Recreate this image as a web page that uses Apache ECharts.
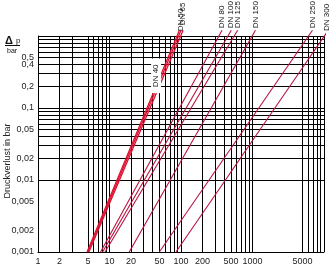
<!DOCTYPE html>
<html><head><meta charset="utf-8">
<script src="https://cdn.jsdelivr.net/npm/echarts@6/dist/echarts.min.js"></script>
<style>html,body{margin:0;padding:0;background:#fff}#c{width:332px;height:268px}</style>
</head><body><div id="c"></div>
<script>
// tick labels
const xTickLabels = [1, 2, 5, 10, 20, 50, 100, 200, 500, 1000, 5000];
const yTickLabels = [0.001, 0.002, 0.005, 0.01, 0.02, 0.05, 0.1, 0.2, 0.4, 0.5];
// grid lines
const xGridValues = [1,2,3,5,6,7,8,9,10,20,30,40,50,60,70,80,90,100,200,300,400,500,600,700,800,900,1000,5000,6000,7000,8000,9000,10000];
const yGridValues = [0.001,0.002,0.003,0.004,0.005,0.006,0.007,0.008,0.009,0.01,0.02,0.03,0.04,0.05,0.06,0.07,0.08,0.09,0.1,0.2,0.3,0.4,0.5,0.6,0.7,0.8,0.9,1];
// series: [flow, pressure loss]
const seriesNames = ['DN 40','DN 50','DN 65','DN 80','DN 100','DN 125','DN 150','DN 250','DN 300'];
const dn40  = [[4.85, 0.001], [95, 1.2]];
const dn50  = [[5.0, 0.001], [100, 1.2]];
const dn65  = [[5.15, 0.001], [107, 1.2]];
const dn80  = [[7.5, 0.001], [375, 1.2]];
const dn100 = [[8.0, 0.001], [505, 1.2]];
const dn125 = [[8.65, 0.001], [620, 1.2]];
const dn150 = [[18.9, 0.001], [1100, 1.2]];
const dn250 = [[49.8, 0.001], [6900, 1.2]];
const dn300 = [[85, 0.001], [10800, 1.1]];
const dn40LabelAt = [44.8, 0.28];

const seriesData = [dn40, dn50, dn65, dn80, dn100, dn125, dn150, dn250, dn300];
const FONT = 'Liberation Sans, Arial, sans-serif';
const fmtY = v => String(v).replace('.', ',');
const chart = echarts.init(document.getElementById('c'), null, {renderer: 'canvas'});
const labelShift = {'DN 50': [-3, 0], 'DN 65': [3, 0]};

const lineSeries = seriesData.map((d, i) => {
  const name = seriesNames[i];
  const band = i < 3;
  const data = d.map((p, j) => {
    if (j === d.length - 1 && name !== 'DN 40') {
      return {value: p, label: {show: true, formatter: name, position: 'top', rotate: 90,
        align: 'left', verticalAlign: 'middle', distance: 2, offset: labelShift[name] || [0, 0],
        fontSize: 8, color: '#111', fontFamily: FONT}};
    }
    return {value: p};
  });
  const s = {
    type: 'line', name, data, clip: false, showSymbol: true, symbol: 'circle', symbolSize: 0,
    z: 5, silent: true, animation: false,
    lineStyle: {color: band ? '#dc1030' : '#b8123e', width: band ? 1.3 : 1.1},
    itemStyle: {color: band ? '#dc1030' : '#b8123e'}
  };
  if (name === 'DN 40') {
    s.markPoint = {
      z: 20, symbol: 'circle', symbolSize: 0, silent: true, animation: false,
      data: [{coord: dn40LabelAt}],
      label: {show: true, formatter: name, rotate: 90, position: 'inside', align: 'center', verticalAlign: 'middle',
        fontSize: 8, color: '#111', backgroundColor: '#fff', padding: [1, 6, 1, 6], fontFamily: FONT}
    };
  }
  return s;
});

// the 0,5 label sits too close to 0,4 for the axis, so it is drawn on its grid line
const crowded = [0.5];
const gridSeries = {
  type: 'line', name: 'grid', data: [], z: 1, silent: true, animation: false,
  markLine: {
    z: 1, silent: true, animation: false, symbol: ['none', 'none'],
    label: {show: false},
    lineStyle: {color: '#000', width: 1, type: 'solid'},
    emphasis: {disabled: true},
    data: xGridValues.map(v => ({xAxis: v})).concat(yGridValues.map(v => {
      const item = {yAxis: v};
      if (crowded.includes(v)) {
        item.label = {show: true, position: 'start', formatter: fmtY(v), distance: 4,
          fontSize: 9, color: '#222', fontFamily: FONT};
      }
      return item;
    }))
  }
};

chart.setOption({
  animation: false,
  grid: {left: 38, right: 8, top: 36, bottom: 16, containLabel: false},
  xAxis: {
    type: 'log', logBase: 10, min: 1, max: 10000,
    axisLine: {show: true, lineStyle: {color: '#000', width: 1}},
    axisTick: {show: false}, splitLine: {show: false}, minorSplitLine: {show: false},
    axisLabel: {customValues: xTickLabels, fontSize: 9, color: '#222', margin: 5, fontFamily: FONT,
      hideOverlap: false, formatter: v => String(v)}
  },
  yAxis: {
    type: 'log', logBase: 10, min: 0.001, max: 1,
    axisLine: {show: true, lineStyle: {color: '#000', width: 1}},
    axisTick: {show: false}, splitLine: {show: false},
    axisLabel: {customValues: yTickLabels.filter(v => !crowded.includes(v)), fontSize: 9, color: '#222',
      margin: 4, fontFamily: FONT, hideOverlap: false, formatter: fmtY}
  },
  graphic: [
    {type: 'text', x: 5, y: 35, style: {text: 'Δ', font: 'bold 11px ' + FONT, fill: '#111'}},
    {type: 'text', x: 16, y: 37, style: {text: 'p', font: '8px ' + FONT, fill: '#111'}},
    {type: 'line', shape: {x1: 5, y1: 45.5, x2: 20, y2: 45.5}, style: {stroke: '#111', lineWidth: 1}},
    {type: 'text', x: 7, y: 48, style: {text: 'bar', font: '7px ' + FONT, fill: '#111'}},
    {type: 'text', x: 8, y: 161, rotation: Math.PI / 2,
      style: {text: 'Druckverlust in bar', font: '9px ' + FONT, fill: '#222', align: 'center', verticalAlign: 'middle'}}
  ],
  series: [gridSeries].concat(lineSeries)
});
</script></body></html>
